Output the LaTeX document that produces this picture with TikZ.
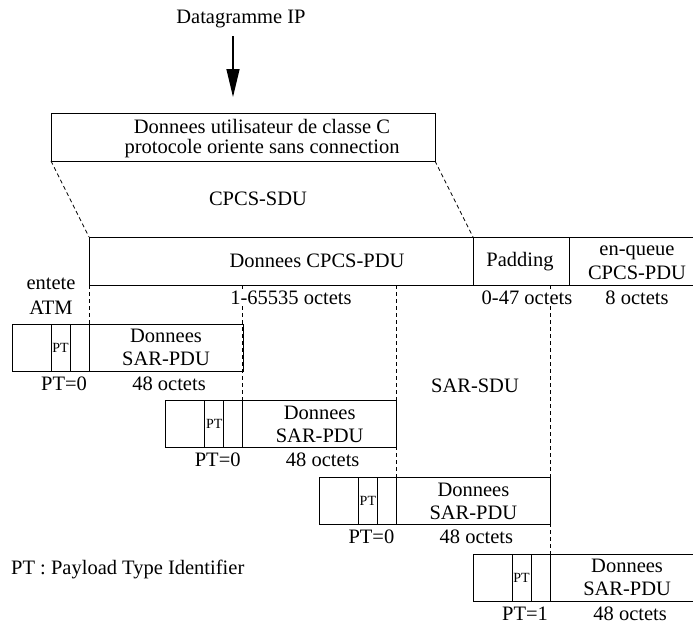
\documentclass[tikz,border=0pt]{standalone}
\usepackage{fontspec}
\setmainfont{Liberation Serif}
\usetikzlibrary{arrows.meta}
\tikzset{
  bx/.style={draw, line width=0.9pt, anchor=north west, inner sep=0pt, outer sep=0pt},
  tx/.style={font=\fontsize{20.5}{23}\selectfont, inner sep=0pt, align=center, anchor=base},
  lb/.style={tx, fill=white, inner xsep=1pt, inner ysep=1pt},
  sm/.style={font=\fontsize{14}{14}\selectfont},
  dsh/.style={line width=0.7pt, dash pattern=on 4pt off 3pt},
  arr/.style={line width=1.4pt, -{Triangle[length=28pt,width=13pt]}},
}
\begin{document}
\begin{tikzpicture}[x=1pt,y=-1pt]
\clip (0,0) rectangle (693,624);
% arrow and title
\node[tx] (dg) at (241,23) {Datagramme IP};
\coordinate (a1) at (233,36);
\coordinate (a2) at (233,97);
\draw[arr] (a1) -- (a2);
% user data box
\node[bx, minimum width=384pt, minimum height=48pt] (usr) at (51,113) {};
\node[tx, font=\fontsize{20.5}{20}\selectfont] (usrt) at (262,153) {Donnees utilisateur de classe C\\protocole oriente sans connection};
\node[tx] (sdu) at (258,205) {CPCS-SDU};
% CPCS-PDU row
\node[bx, minimum width=384pt, minimum height=48pt] (cpcs) at (89,237) {};
\node[bx, minimum width=96pt, minimum height=48pt] (pad) at (473,237) {};
\node[bx, minimum width=140pt, minimum height=48pt] (trl) at (569,237) {};
\node[tx] (cpcst) at (317,267) {Donnees CPCS-PDU};
\node[tx] (padt) at (520,266) {Padding};
\node[tx, font=\fontsize{20.5}{24}\selectfont] (trlt) at (637,279) {en-queue\\CPCS-PDU};
\node[tx, font=\fontsize{20.5}{25}\selectfont] (atm) at (51,314) {entete\\ATM};
\draw[dsh] (usr.south west) -- (cpcs.north west);
\draw[dsh] (usr.south east) -- (cpcs.north east);
% cells
\foreach \i/\p in {1/0,2/0,3/0,4/1}{
  \pgfmathsetmacro{\L}{12+153.7*(\i-1)}
  \pgfmathsetmacro{\T}{324+76.7*(\i-1)}
  \node[bx, minimum width=39pt, minimum height=47pt] (c\i a) at (\L,\T) {};
  \node[bx, sm, minimum width=19pt, minimum height=47pt] (c\i b) at (\L+39,\T) {PT};
  \node[bx, minimum width=19pt, minimum height=47pt] (c\i c) at (\L+58,\T) {};
  \node[bx, minimum width=154pt, minimum height=47pt, align=center, font=\fontsize{20.5}{23}\selectfont] (c\i d) at (\L+77,\T) {Donnees\\SAR-PDU};
  \node[tx] (p\i) at (\L+52,\T+66) {PT=\p};
  \node[tx] (o\i) at (\L+157,\T+66) {48 octets};
}
% dashed verticals
\draw[dsh] (c1d.north west |- cpcs.south) -- (c1d.north west);
\draw[dsh] (c2d.north west |- cpcs.south) -- (c2d.north west);
\draw[dsh] (c3d.north west |- cpcs.south) -- (c3d.north west);
\draw[dsh] (c4d.north west |- cpcs.south) -- (c4d.north west);
% size labels
\node[lb] (sz1) at (291,304) {1-65535 octets};
\node[lb] (sz2) at (527,304) {0-47 octets};
\node[lb] (sz3) at (637,304) {8 octets};
\node[tx] (sarsdu) at (475,392) {SAR-SDU};
\node[tx, anchor=base west] (legend) at (11,574) {PT : Payload Type Identifier};
\end{tikzpicture}
\end{document}
